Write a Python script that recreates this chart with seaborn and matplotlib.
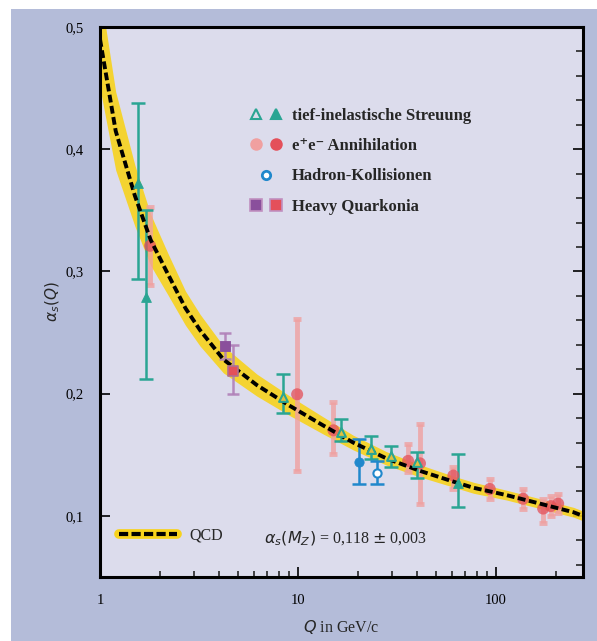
import numpy as np
import pandas as pd
import seaborn as sns
import matplotlib.pyplot as plt
from matplotlib.lines import Line2D
from matplotlib.legend_handler import HandlerTuple
from matplotlib.patches import Rectangle
from matplotlib.ticker import FixedLocator, FuncFormatter, MultipleLocator, LogLocator, NullFormatter

# QCD curve
qcd_q = [1.0, 1.2, 1.5, 1.8, 2.2, 2.7, 3.2, 4.2, 6.2, 9.1, 13.4, 19.0, 28.0, 41.0, 61.0, 77.0, 113.0, 167.0, 246.0, 275.0]
qcd_a = [0.490, 0.415, 0.362, 0.326, 0.298, 0.270, 0.252, 0.228, 0.207, 0.190, 0.174, 0.160, 0.147, 0.137, 0.128, 0.123, 0.117, 0.110, 0.103, 0.100]
qcd_err = [0.040, 0.032, 0.025, 0.021, 0.017, 0.014, 0.013, 0.011, 0.009, 0.008, 0.007, 0.006, 0.0055, 0.005, 0.0045, 0.0045, 0.004, 0.004, 0.004, 0.004]

# tief-inelastische Streuung
dis_q = [1.55, 1.70, 8.43, 16.5, 23.4, 29.4, 39.7, 64.5]
dis_a = [0.372, 0.279, 0.197, 0.169, 0.155, 0.149, 0.144, 0.127]
dis_lo = [0.294, 0.212, 0.184, 0.161, 0.1465, 0.140, 0.131, 0.107]
dis_hi = [0.438, 0.350, 0.216, 0.179, 0.1655, 0.157, 0.152, 0.151]
dis_open = [False, False, True, True, True, True, True, False]

# e+e- Annihilation
ee_q = [1.79, 9.9, 15.1, 36.0, 41.3, 60.9, 93.0, 137.0, 173.0, 189.0, 206.0]
ee_a = [0.321, 0.1995, 0.170, 0.145, 0.143, 0.133, 0.122, 0.114, 0.106, 0.108, 0.110]
ee_lo = [0.289, 0.137, 0.151, 0.136, 0.110, 0.122, 0.114, 0.106, 0.094, 0.100, 0.102]
ee_hi = [0.353, 0.261, 0.193, 0.159, 0.175, 0.140, 0.130, 0.122, 0.114, 0.116, 0.118]

# Hadron-Kollisionen
had_q = [20.3, 25.0]
had_a = [0.144, 0.135]
had_lo = [0.126, 0.126]
had_hi = [0.163, 0.145]

# Heavy Quarkonia
hq_q = [4.28, 4.68]
hq_a = [0.239, 0.2185]
hq_lo = [0.228, 0.200]
hq_hi = [0.250, 0.2395]

y_ticks = [0.1, 0.2, 0.3, 0.4, 0.5]
x_ticks = [1, 10, 100]

GREEN = '#2aa593'
RED = '#e4505a'
PINK = '#f0a0a0'
BLUE = '#2088cc'
PURPLE = '#8a4f9c'
YELLOW = '#f7d21c'

sns.set_theme(style='ticks')
plt.rcParams['font.family'] = ['Liberation Serif', 'DejaVu Serif']

fig = plt.figure(figsize=(5.97, 6.41), dpi=100)
fig.patch.set_facecolor('white')
fig.patches.append(Rectangle((11 / 597, 0), 1, 1 - 9 / 641, transform=fig.transFigure,
                             facecolor='#b4bcd9', edgecolor='none', zorder=-10))
ax = fig.add_axes([100 / 597, 64 / 641, 483 / 597, 550 / 641])
ax.set_facecolor('#dcdcec')

curve = pd.DataFrame({'Q': qcd_q, 'a': qcd_a, 'e': qcd_err})
ax.fill_between(curve['Q'], curve['a'] - curve['e'], curve['a'] + curve['e'],
                color=YELLOW, lw=0, alpha=0.9, zorder=1)
sns.lineplot(data=curve, x='Q', y='a', ax=ax, color='black', lw=2.8,
             linestyle=(0, (2.0, 0.9)), zorder=5)


def bars(q, a, lo, hi, color, lw, alpha, cap=4, z=3):
    a = np.array(a)
    yerr = [a - np.array(lo), np.array(hi) - a]
    ax.errorbar(q, a, yerr=yerr, fmt='none', ecolor=color, elinewidth=lw,
                capsize=cap, capthick=lw, alpha=alpha, zorder=z)


bars(ee_q, ee_a, ee_lo, ee_hi, PINK, 3.5, 0.8, cap=3, z=2)
bars(dis_q, dis_a, dis_lo, dis_hi, GREEN, 1.8, 1.0, cap=5)
bars(had_q, had_a, had_lo, had_hi, BLUE, 1.8, 1.0, cap=5)
bars(hq_q, hq_a, hq_lo, hq_hi, '#b080b8', 1.8, 0.9, cap=4)

ee = pd.DataFrame({'Q': ee_q, 'a': ee_a})
sns.scatterplot(data=ee, x='Q', y='a', ax=ax, color=RED, s=75, alpha=0.75,
                edgecolor='none', zorder=4, legend=False)

dis = pd.DataFrame({'Q': dis_q, 'a': dis_a, 'open': dis_open})
sns.scatterplot(data=dis[~dis['open']], x='Q', y='a', ax=ax, color=GREEN, marker='^',
                s=50, edgecolor=GREEN, zorder=6, legend=False)
sns.scatterplot(data=dis[dis['open']], x='Q', y='a', ax=ax, color='#e0c040', marker='^',
                s=40, edgecolor=GREEN, linewidth=1.5, zorder=6, legend=False)

sns.scatterplot(x=had_q[:1], y=had_a[:1], ax=ax, color=BLUE, s=45, edgecolor=BLUE,
                zorder=6, legend=False)
sns.scatterplot(x=had_q[1:], y=had_a[1:], ax=ax, color='white', s=35, edgecolor=BLUE,
                linewidth=1.5, zorder=6, legend=False)

sns.scatterplot(x=hq_q[:1], y=hq_a[:1], ax=ax, color=PURPLE, marker='s', s=60,
                edgecolor=PURPLE, zorder=6, legend=False)
sns.scatterplot(x=hq_q[1:], y=hq_a[1:], ax=ax, color=RED, marker='s', s=55,
                edgecolor='#b07090', linewidth=1.2, zorder=6, legend=False)

ax.set_xscale('log')
ax.set_xlim(1, 275)
ax.set_ylim(0.05, 0.5)

ax.xaxis.set_major_locator(FixedLocator(x_ticks))
ax.xaxis.set_major_formatter(FuncFormatter(lambda v, p: '%d' % v))
ax.xaxis.set_minor_locator(LogLocator(base=10, subs=np.arange(2, 10)))
ax.xaxis.set_minor_formatter(NullFormatter())
ax.yaxis.set_major_locator(FixedLocator(y_ticks))
ax.yaxis.set_major_formatter(FuncFormatter(lambda v, p: ('%.1f' % v).replace('.', ',')))
ax.yaxis.set_minor_locator(MultipleLocator(0.02))
ax.tick_params(axis='both', which='major', direction='in', length=7, width=1.2,
               labelsize=10.5, colors='black', pad=12)
ax.tick_params(axis='x', which='minor', direction='in', length=4, width=1.2)
ax.tick_params(axis='y', which='major', right=True)
ax.tick_params(axis='y', which='minor', direction='in', length=5, width=1.2,
               left=False, right=True)
for s in ax.spines.values():
    s.set_linewidth(2.2)
    s.set_color('black')

ax.set_xlabel(r'$Q$ in GeV/c', fontsize=11.5, labelpad=8)
ax.set_ylabel(r'$\alpha_s(Q)$', fontsize=11, labelpad=2)

def tri(fc):
    return Line2D([], [], ls='none', marker='^', ms=7, mfc=fc, mec=GREEN, mew=1.5)

handles = [
    (tri('none'), tri(GREEN)),
    (Line2D([], [], ls='none', marker='o', ms=9, mfc=PINK, mec='none'),
     Line2D([], [], ls='none', marker='o', ms=9, mfc=RED, mec='none')),
    (Line2D([], [], ls='none', marker='o', ms=6, mfc='white', mec=BLUE, mew=2),),
    (Line2D([], [], ls='none', marker='s', ms=8, mfc=PURPLE, mec='#c090c0', mew=1.2),
     Line2D([], [], ls='none', marker='s', ms=8, mfc=RED, mec='#c090c0', mew=1.2)),
]
labels = ['tief-inelastische Streuung', 'e\u207ae\u207b Annihilation',
          'Hadron-Kollisionen', 'Heavy Quarkonia']
leg = ax.legend(handles, labels, handler_map={tuple: HandlerTuple(ndivide=None, pad=0.4)},
                loc='upper left', bbox_to_anchor=(0.28, 0.88), frameon=False,
                prop={'weight': 'bold', 'size': 12}, handlelength=1.9,
                handletextpad=0.6, labelspacing=0.85)
ax.add_artist(leg)

qcd_handle = (Line2D([], [], color=YELLOW, lw=7),
              Line2D([], [], color='black', lw=3, linestyle=(0, (2.2, 0.8))))
ax.legend([qcd_handle], ['QCD'], handler_map={tuple: HandlerTuple(ndivide=1)},
          loc='lower left', bbox_to_anchor=(0.01, 0.035), frameon=False,
          prop={'size': 11.5}, handlelength=3.6, handletextpad=0.8)
ax.text(0.34, 0.07, r'$\alpha_s(M_Z)$ = 0,118 $\pm$ 0,003', transform=ax.transAxes,
        fontsize=11.5, va='center', ha='left')

plt.savefig('out.png', dpi=100)
